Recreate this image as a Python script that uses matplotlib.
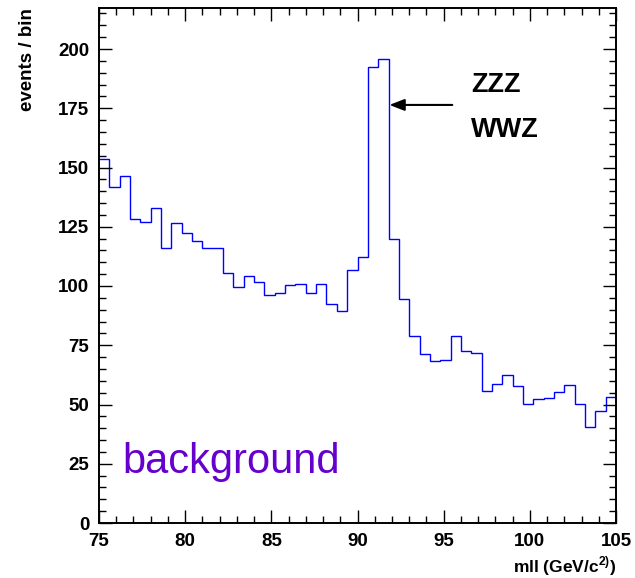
import numpy as np
import matplotlib
matplotlib.use("Agg")
import matplotlib.pyplot as plt
from matplotlib.ticker import MultipleLocator

# Data: histogram of mll, 50 bins of 0.6 GeV from 75 to 105
x_min, x_max, n_bins = 75.0, 105.0, 50
counts = [153.6, 141.8, 146.4, 128.1, 126.9, 133.0, 115.9, 126.4, 122.2, 119.0,
          116.2, 115.9, 105.6, 99.7, 104.4, 101.6, 96.2, 97.2, 100.4, 101.0,
          97.2, 100.7, 92.4, 89.6, 106.8, 112.1, 192.4, 195.6, 120.0, 94.4,
          79.0, 71.2, 68.2, 68.6, 78.9, 72.7, 71.9, 55.8, 58.8, 62.6,
          57.9, 50.1, 52.2, 52.6, 55.3, 58.1, 50.3, 40.4, 47.1, 53.2]
x_ticks = [75, 80, 85, 90, 95, 100, 105]
y_ticks = [0, 25, 50, 75, 100, 125, 150, 175, 200]
labels_right = ["ZZZ", "WWZ"]

plt.rcParams['font.family'] = ['Liberation Sans', 'DejaVu Sans']
plt.rcParams['mathtext.fontset'] = 'custom'
plt.rcParams['mathtext.rm'] = 'Liberation Sans:bold'
plt.rcParams['mathtext.bf'] = 'Liberation Sans:bold'

fig = plt.figure(figsize=(6.35, 5.78), dpi=100)
ax = fig.add_axes([99/635, 1-523/578, (616-99)/635, (523-8)/578])

edges = np.linspace(x_min, x_max, n_bins + 1)
ax.stairs(counts, edges, color='#0000ff', linewidth=1.0, baseline=None)

ax.set_xlim(x_min, x_max)
ax.set_ylim(0, (523-8)/2.37)
ax.set_xticks(x_ticks)
ax.set_yticks(y_ticks)
ax.xaxis.set_minor_locator(MultipleLocator(1))
ax.yaxis.set_minor_locator(MultipleLocator(5))
ax.tick_params(which='both', direction='in', top=True, right=True, width=1.0)
ax.tick_params(which='major', length=9.5, labelsize=13.5, pad=7)
ax.tick_params(which='minor', length=4.8)
for lab in ax.get_xticklabels() + ax.get_yticklabels():
    lab.set_fontweight('bold')
for sp in ax.spines.values():
    sp.set_linewidth(1.4)

ax.set_ylabel('events / bin', fontsize=13.5, fontweight='bold', loc='top')
ax.yaxis.set_label_coords(-0.122, 1.0)
ax.set_xlabel(r'mll (GeV/c$^{2)}$)', fontsize=12.5, fontweight='bold', loc='right')
ax.xaxis.set_label_coords(1.0, -0.0835)
ax.xaxis.label.set_va('center')

ax.text(75.0 + (122-99)/17.23, (523-462)/2.37, 'background', color='#6600cc',
        fontsize=30, ha='left', va='center')

ax.annotate('', xy=(91.85, 176.4), xytext=(95.5, 176.4),
            arrowprops=dict(arrowstyle='-|>,head_length=0.9,head_width=0.35',
                            color='black', lw=1.5, shrinkA=0, shrinkB=0))
ax.text(96.6, 184.8, labels_right[0], fontsize=19.5, fontweight='bold', ha='left', va='center')
ax.text(96.6, 165.8, labels_right[1], fontsize=19.5, fontweight='bold', ha='left', va='center')

fig.savefig('out.png', dpi=100)
